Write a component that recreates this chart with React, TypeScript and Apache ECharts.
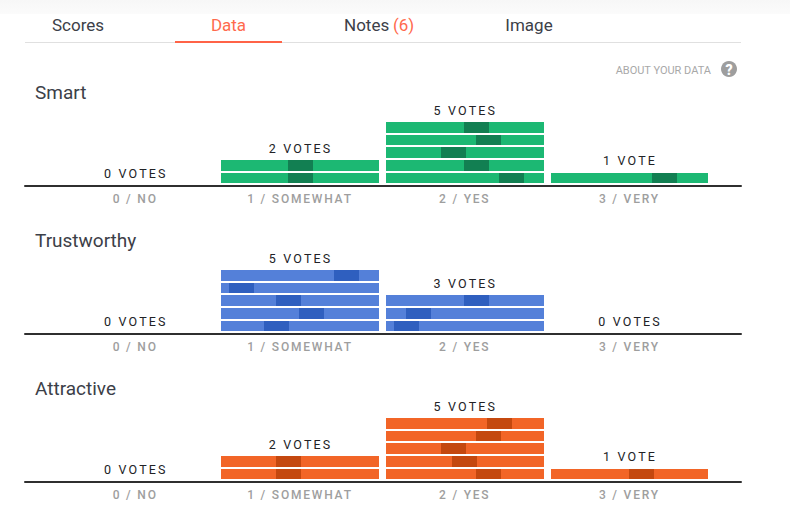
import React, { useEffect, useRef } from "react";
import * as echarts from "echarts";

const categories = ["0 / NO", "1 / SOMEWHAT", "2 / YES", "3 / VERY"];
const traits = ["Smart", "Trustworthy", "Attractive"];
const tabs = ["Scores", "Data", "Notes", "(6)", "Image"];

// Position of the dark marker inside each vote's stripe (0–158 across the stripe), bottom stripe first
const smartVotes = [[], [67, 67], [113, 78, 55, 90, 78], [101]];
const trustworthyVotes = [[], [43, 78, 55, 8, 113], [8, 20, 78], []];
const attractiveVotes = [[], [55, 55], [90, 66, 55, 90, 101], [78]];
const panelVotes = [smartVotes, trustworthyVotes, attractiveVotes];

const baseColors = ["#1cb873", "#5480d9", "#f26527"];
const darkColors = ["#127f52", "#2f5fbf", "#c4480f"];

const INK = "#3c4048";
const VOTE_INK = "#222226";
const AXIS_INK = "#9e9e9e";
const PITCH = 164.75;
const STRIPE = 157.9;
const MARKER = 25;
const BASELINES = [186, 334, 482];
const ROW = 12.6;

function voteLabel(n: number) {
  return n + (n === 1 ? " VOTE" : " VOTES");
}

export default function App() {
  const ref = useRef<HTMLDivElement>(null);
  useEffect(() => {
    const chart = echarts.init(ref.current!, undefined, { renderer: "svg" });

    const stripeItem = (color: string, dark: string) => (_: any, api: any) => {
      const k = api.value(0);
      const i = api.value(1);
      const pos = api.value(2);
      const half = STRIPE / 2 / PITCH;
      const left = Math.round(api.coord([k - half, 0])[0]);
      const right = Math.round(api.coord([k + half, 0])[0]);
      const top = Math.round(api.coord([k, i + 1.0635])[1]);
      const bottom = Math.round(api.coord([k, i + 0.2222])[1]);
      const mLeft = Math.round(api.coord([k - half + pos / PITCH, 0])[0]);
      return {
        type: "group",
        children: [
          { type: "rect", shape: { x: left, y: top, width: right - left, height: bottom - top }, style: { fill: color } },
          { type: "rect", shape: { x: mLeft, y: top, width: MARKER, height: bottom - top }, style: { fill: dark } },
        ],
      };
    };

    const labelItem = (_: any, api: any) => {
      const k = api.value(0);
      const n = api.value(1);
      const p = api.coord([k, n]);
      return {
        type: "text",
        x: p[0] + 0.6,
        y: p[1] - 12.7,
        style: {
          text: voteLabel(n),
          textAlign: "center",
          textVerticalAlign: "middle",
          fill: VOTE_INK,
          font: "400 12.5px Roboto",
        },
      };
    };

    const grids: any[] = [];
    const xAxes: any[] = [];
    const yAxes: any[] = [];
    const series: any[] = [];
    const titles: any[] = [];

    panelVotes.forEach((votes, p) => {
      grids.push({ left: 25, width: 716, top: BASELINES[p] - 8 * ROW, height: 8 * ROW });
      xAxes.push({
        type: "value",
        gridIndex: p,
        min: (25 - 135.2) / PITCH,
        max: (741 - 135.2) / PITCH,
        splitLine: { show: false },
        axisTick: { show: false },
        axisLine: { show: true, onZero: false, lineStyle: { color: "#2f2f2f", width: 2 } },
        axisLabel: {
          customValues: [0, 1, 2, 3],
          formatter: (v: number) => categories[Math.round(v)],
          color: AXIS_INK,
          fontFamily: "Roboto",
          fontWeight: 500,
          fontSize: 12,
          margin: 7,
        },
      });
      yAxes.push({ type: "value", gridIndex: p, min: 0, max: 8, show: false });
      const rows: number[][] = [];
      votes.forEach((col, k) => col.forEach((pos, i) => rows.push([k, i, pos])));
      series.push({
        type: "custom",
        xAxisIndex: p,
        yAxisIndex: p,
        silent: true,
        clip: false,
        data: rows,
        renderItem: stripeItem(baseColors[p], darkColors[p]),
      });
      series.push({
        type: "custom",
        xAxisIndex: p,
        yAxisIndex: p,
        silent: true,
        clip: false,
        data: votes.map((col, k) => [k, col.length]),
        renderItem: labelItem,
      });
      titles.push({
        text: traits[p],
        left: 35,
        top: BASELINES[p] - 105,
        padding: 0,
        textStyle: { color: INK, fontFamily: "Roboto", fontWeight: 400, fontSize: 19, lineHeight: 22 },
      });
    });

    const tabText = (text: string, x: number, fill: string, align = "center") => ({
      type: "text",
      x,
      y: 25,
      style: { text, fill, textAlign: align, textVerticalAlign: "middle", font: "400 17px Roboto" },
    });

    chart.setOption({
      animation: false,
      backgroundColor: "#ffffff",
      title: titles,
      grid: grids,
      xAxis: xAxes,
      yAxis: yAxes,
      series,
      graphic: [
        {
          type: "rect",
          shape: { x: 0, y: 0, width: 790, height: 14 },
          style: {
            fill: new echarts.graphic.LinearGradient(0, 0, 0, 1, [
              { offset: 0, color: "#f7f7f7" },
              { offset: 1, color: "#fbfbfb" },
            ]),
          },
        },
        tabText(tabs[0], 78, INK),
        tabText(tabs[1], 228.5, "#ff6a4d"),
        tabText(tabs[2], 344, INK, "left"),
        tabText(tabs[3], 393, "#ff6a4d", "left"),
        tabText(tabs[4], 529, INK),
        { type: "rect", shape: { x: 25, y: 42, width: 716, height: 1 }, style: { fill: "#e0e0e0" } },
        { type: "rect", shape: { x: 175, y: 41, width: 107, height: 2 }, style: { fill: "#ff6347" } },
        {
          type: "text",
          x: 711,
          y: 70,
          style: { text: "ABOUT YOUR DATA", fill: "#a8a8a8", textAlign: "right", textVerticalAlign: "middle", font: "400 11px Roboto" },
        },
        { type: "circle", shape: { cx: 729, cy: 69, r: 8 }, style: { fill: "#9e9e9e" } },
        {
          type: "text",
          x: 729,
          y: 69.5,
          style: { text: "?", fill: "#ffffff", textAlign: "center", textVerticalAlign: "middle", font: "900 14px Roboto" },
        },
      ],
    });
    return () => chart.dispose();
  }, []);

  return (
    <>
      <style>{`
        text[fill="${VOTE_INK}"] { letter-spacing: 2.2px; }
        text[fill="${AXIS_INK}"] { letter-spacing: 1.8px; }
      `}</style>
      <div ref={ref} style={{ position: "fixed", left: 0, top: 0, width: 790, height: 511 }} />
    </>
  );
}
